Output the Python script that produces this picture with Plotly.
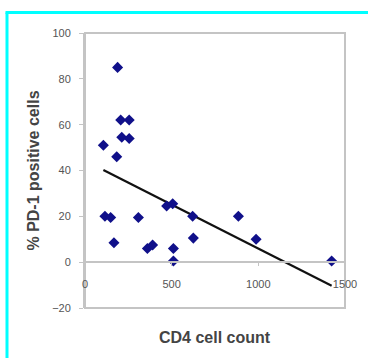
import numpy as np
import plotly.graph_objects as go

cd4_count = [106, 115, 148, 167, 183, 188, 206, 212, 255, 255, 308, 360, 390,
             471, 506, 510, 510, 621, 625, 885, 987, 1423]
pd1_percent = [51, 20, 19.5, 8.5, 46, 85, 62, 54.5, 62, 54, 19.5, 6, 7.5,
               24.5, 25.5, 6, 0.5, 20, 10.5, 20, 10, 0.5]

x_ticks = [0, 500, 1000, 1500]
y_ticks = [-20, 0, 20, 40, 60, 80, 100]

x_title = "CD4 cell count"
y_title = "% PD-1 positive cells"

slope, intercept = np.polyfit(cd4_count, pd1_percent, 1)
trend_x = [min(cd4_count), max(cd4_count)]
trend_y = [intercept + slope * v for v in trend_x]

fig = go.Figure()
fig.add_trace(go.Scatter(x=trend_x, y=trend_y, mode="lines",
                         line=dict(color="#111111", width=2.2),
                         showlegend=False, hoverinfo="skip"))
fig.add_trace(go.Scatter(x=cd4_count, y=pd1_percent, mode="markers",
                         marker=dict(symbol="diamond", size=8.5, color="#10108a"),
                         showlegend=False))

axis_grey = "#c4c4c4"
tick_font = dict(family="Liberation Sans, Arial, sans-serif", size=11, color="#555555")
title_font = dict(family="Liberation Sans, Arial, sans-serif", size=16, color="#444444")

fig.update_layout(
    width=368, height=358,
    margin=dict(l=85, r=23, t=33, b=50),
    paper_bgcolor="white", plot_bgcolor="white",
    xaxis=dict(range=[0, 1500], tickvals=x_ticks, showgrid=False, zeroline=False,
               showline=True, linecolor=axis_grey, linewidth=1.5,
               ticks="outside", ticklen=3, tickcolor=axis_grey,
               anchor="free", position=1/6, ticklabelstandoff=9,
               tickfont=tick_font),
    yaxis=dict(range=[-20, 100], tickvals=y_ticks, showgrid=False, zeroline=False,
               showline=True, linecolor=axis_grey, linewidth=2,
               ticks="outside", ticklen=4, tickcolor=axis_grey,
               ticklabelstandoff=6, tickfont=tick_font,
               title=dict(text="<b>" + y_title + "</b>", font=title_font, standoff=9)),
    annotations=[dict(text="<b>" + x_title + "</b>", xref="paper", yref="paper",
                      x=0.5, y=(308 - 337) / 275, showarrow=False,
                      xanchor="center", yanchor="middle", font=title_font)],
    shapes=[
        dict(type="rect", xref="paper", yref="paper", x0=0, x1=1, y0=0, y1=1,
             line=dict(color=axis_grey, width=2), layer="below"),
        dict(type="line", xref="paper", yref="paper",
             x0=(7 - 85) / 260, x1=(7 - 85) / 260, y0=-0.3, y1=(308 - 12.5) / 275,
             line=dict(color="#00ffff", width=3)),
        dict(type="line", xref="paper", yref="paper",
             x0=(5.5 - 85) / 260, x1=1.2, y0=(308 - 12.5) / 275, y1=(308 - 12.5) / 275,
             line=dict(color="#00ffff", width=3)),
    ],
)

fig.write_html("out.html")
